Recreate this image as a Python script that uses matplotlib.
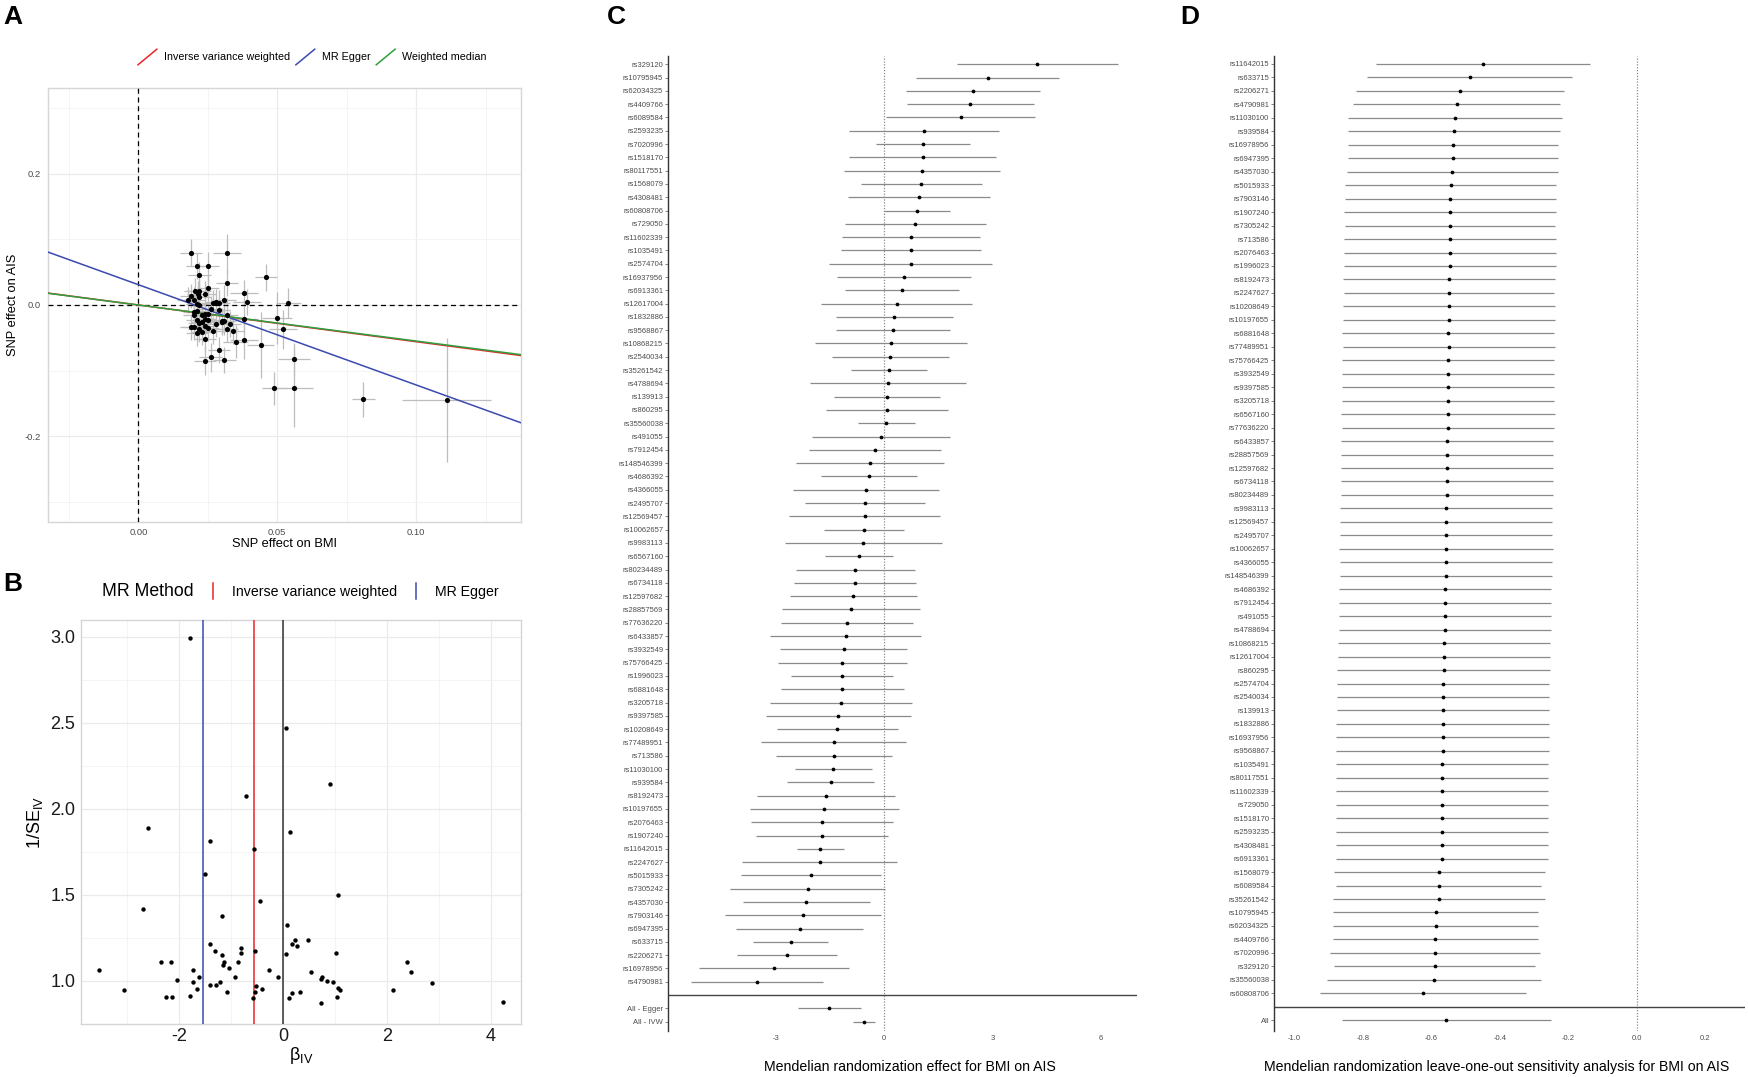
import numpy as np
import matplotlib
matplotlib.use('Agg')
import matplotlib.pyplot as plt
from matplotlib.lines import Line2D
from matplotlib.legend_handler import HandlerBase

plt.rcParams['font.family'] = ['Liberation Sans', 'DejaVu Sans']
plt.rcParams['axes.unicode_minus'] = False
plt.rcParams['mathtext.fontset'] = 'custom'
plt.rcParams['mathtext.rm'] = 'Liberation Sans'
plt.rcParams['mathtext.it'] = 'Liberation Sans:italic'

# ---------------- data ----------------
# panel A: SNP effects on exposure (BMI) and outcome (AIS), +/- se
bx = [0.019, 0.032, 0.021, 0.025, 0.022, 0.046, 0.032, 0.025, 0.038, 0.019,
      0.0205, 0.022, 0.0215, 0.024, 0.022, 0.039, 0.054, 0.020, 0.021, 0.022,
      0.027, 0.028, 0.029, 0.031, 0.029, 0.020, 0.024, 0.025, 0.032, 0.021,
      0.023, 0.025, 0.038, 0.050, 0.028, 0.030, 0.031, 0.019, 0.020, 0.022,
      0.024, 0.025, 0.032, 0.034, 0.052, 0.021, 0.023, 0.024, 0.035, 0.038,
      0.044, 0.029, 0.026, 0.024, 0.031, 0.056, 0.049, 0.056, 0.081, 0.111,
      0.018, 0.021, 0.023, 0.026, 0.030, 0.022, 0.027, 0.024, 0.020, 0.033]
by = [0.080, 0.079, 0.060, 0.059, 0.046, 0.042, 0.034, 0.026, 0.018, 0.014,
      0.021, 0.021, 0.017, 0.017, 0.012, 0.005, 0.003, 0.007, 0.002, 0.000,
      0.003, 0.004, 0.003, 0.008, -0.008, -0.010, -0.013, -0.014, -0.015, -0.023,
      -0.026, -0.023, -0.021, -0.020, -0.029, -0.026, -0.025, -0.034, -0.034, -0.036,
      -0.032, -0.035, -0.037, -0.039, -0.037, -0.043, -0.041, -0.052, -0.056, -0.053,
      -0.061, -0.069, -0.080, -0.085, -0.084, -0.083, -0.127, -0.126, -0.144, -0.145,
      0.008, -0.009, -0.016, -0.006, -0.024, -0.028, -0.039, -0.022, -0.015, -0.029]
bx_se = [0.004, 0.005, 0.004, 0.004, 0.004, 0.004, 0.004, 0.004, 0.005, 0.004,
         0.004, 0.004, 0.004, 0.004, 0.004, 0.005, 0.0045, 0.004, 0.004, 0.004,
         0.004, 0.004, 0.004, 0.004, 0.004, 0.004, 0.004, 0.004, 0.004, 0.004,
         0.004, 0.004, 0.005, 0.0054, 0.004, 0.004, 0.004, 0.004, 0.004, 0.004,
         0.004, 0.004, 0.004, 0.004, 0.005, 0.004, 0.004, 0.004, 0.0045, 0.005,
         0.005, 0.004, 0.004, 0.004, 0.004, 0.0057, 0.0045, 0.007, 0.004, 0.016,
         0.004, 0.004, 0.004, 0.004, 0.004, 0.004, 0.004, 0.004, 0.004, 0.004]
by_se = [0.020, 0.030, 0.020, 0.022, 0.020, 0.020, 0.020, 0.020, 0.020, 0.018,
         0.020, 0.020, 0.020, 0.020, 0.020, 0.020, 0.023, 0.020, 0.020, 0.020,
         0.020, 0.020, 0.020, 0.022, 0.020, 0.020, 0.020, 0.020, 0.025, 0.020,
         0.020, 0.020, 0.022, 0.040, 0.020, 0.020, 0.020, 0.020, 0.020, 0.020,
         0.020, 0.020, 0.020, 0.020, 0.030, 0.020, 0.020, 0.020, 0.025, 0.030,
         0.050, 0.020, 0.022, 0.022, 0.020, 0.025, 0.025, 0.060, 0.027, 0.094,
         0.020, 0.020, 0.020, 0.020, 0.020, 0.020, 0.020, 0.020, 0.020, 0.020]

# MR estimates
ivw_beta, ivw_se = -0.56, 0.158
egger_beta, egger_se, egger_int = -1.53, 0.444, 0.031
wm_beta = -0.55

# panel C: single SNP Wald ratios (also used for panel B)
snp_c = ['rs329120', 'rs10795945', 'rs62034325', 'rs4409766', 'rs6089584', 'rs2593235',
         'rs7020996', 'rs1518170', 'rs80117551', 'rs1568079', 'rs4308481', 'rs60808706',
         'rs729050', 'rs11602339', 'rs1035491', 'rs2574704', 'rs16937956', 'rs6913361',
         'rs12617004', 'rs1832886', 'rs9568867', 'rs10868215', 'rs2540034', 'rs35261542',
         'rs4788694', 'rs139913', 'rs860295', 'rs35560038', 'rs491055', 'rs7912454',
         'rs148546399', 'rs4686392', 'rs4366055', 'rs2495707', 'rs12569457', 'rs10062657',
         'rs9983113', 'rs6567160', 'rs80234489', 'rs6734118', 'rs12597682', 'rs28857569',
         'rs77636220', 'rs6433857', 'rs3932549', 'rs75766425', 'rs1996023', 'rs6881648',
         'rs3205718', 'rs9397585', 'rs10208649', 'rs77489951', 'rs713586', 'rs11030100',
         'rs939584', 'rs8192473', 'rs10197655', 'rs2076463', 'rs1907240', 'rs11642015',
         'rs2247627', 'rs5015933', 'rs7305242', 'rs4357030', 'rs7903146', 'rs6947395',
         'rs633715', 'rs2206271', 'rs16978956', 'rs4790981']
beta_c = [4.24, 2.87, 2.47, 2.39, 2.12, 1.10, 1.07, 1.06, 1.04, 1.03, 0.96, 0.91,
          0.86, 0.75, 0.73, 0.73, 0.54, 0.48, 0.34, 0.28, 0.24, 0.18, 0.17, 0.14,
          0.11, 0.08, 0.07, 0.06, -0.09, -0.26, -0.40, -0.43, -0.51, -0.53, -0.54, -0.55,
          -0.58, -0.70, -0.80, -0.81, -0.86, -0.92, -1.04, -1.07, -1.13, -1.16, -1.17, -1.17,
          -1.21, -1.28, -1.30, -1.40, -1.40, -1.41, -1.49, -1.62, -1.66, -1.73, -1.73, -1.78,
          -1.79, -2.03, -2.13, -2.16, -2.25, -2.35, -2.60, -2.69, -3.06, -3.53]
se_c = [1.14, 1.015, 0.95, 0.903, 1.056, 1.056, 0.666, 1.04, 1.10, 0.859, 1.005, 0.466,
        1.00, 0.975, 0.99, 1.148, 0.95, 0.808, 1.07, 0.833, 0.808, 1.077, 0.823, 0.537,
        1.107, 0.754, 0.864, 0.405, 0.98, 0.94, 1.05, 0.683, 1.03, 0.851, 1.07, 0.566,
        1.11, 0.482, 0.84, 0.86, 0.90, 0.98, 0.93, 1.066, 0.903, 0.913, 0.725, 0.87,
        1.005, 1.025, 0.851, 1.025, 0.824, 0.551, 0.616, 0.98, 1.05, 1.005, 0.94, 0.334,
        1.097, 0.995, 1.10, 0.90, 1.10, 0.902, 0.530, 0.706, 1.056, 0.94]
all_c_labels = ['All - Egger', 'All - IVW']
all_c_beta = [egger_beta, ivw_beta]
all_c_se = [egger_se, ivw_se]

# panel D: leave-one-out estimates
snp_d = ['rs11642015', 'rs633715', 'rs2206271', 'rs4790981', 'rs11030100', 'rs939584',
         'rs16978956', 'rs6947395', 'rs4357030', 'rs5015933', 'rs7903146', 'rs1907240',
         'rs7305242', 'rs713586', 'rs2076463', 'rs1996023', 'rs8192473', 'rs2247627',
         'rs10208649', 'rs10197655', 'rs6881648', 'rs77489951', 'rs75766425', 'rs3932549',
         'rs9397585', 'rs3205718', 'rs6567160', 'rs77636220', 'rs6433857', 'rs28857569',
         'rs12597682', 'rs6734118', 'rs80234489', 'rs9983113', 'rs12569457', 'rs2495707',
         'rs10062657', 'rs4366055', 'rs148546399', 'rs4686392', 'rs7912454', 'rs491055',
         'rs4788694', 'rs10868215', 'rs12617004', 'rs860295', 'rs2574704', 'rs2540034',
         'rs139913', 'rs1832886', 'rs16937956', 'rs9568867', 'rs1035491', 'rs80117551',
         'rs11602339', 'rs729050', 'rs1518170', 'rs2593235', 'rs4308481', 'rs6913361',
         'rs1568079', 'rs6089584', 'rs35261542', 'rs10795945', 'rs62034325', 'rs4409766',
         'rs7020996', 'rs329120', 'rs35560038', 'rs60808706']
beta_d = [-0.449, -0.488, -0.517, -0.526, -0.530, -0.534, -0.536, -0.537, -0.539, -0.543,
          -0.544, -0.545, -0.545, -0.546, -0.546, -0.546, -0.547, -0.548, -0.548, -0.548,
          -0.550, -0.549, -0.550, -0.550, -0.551, -0.551, -0.551, -0.552, -0.553, -0.554,
          -0.554, -0.554, -0.555, -0.556, -0.557, -0.557, -0.557, -0.557, -0.558, -0.559,
          -0.559, -0.561, -0.561, -0.562, -0.563, -0.564, -0.565, -0.566, -0.566, -0.567,
          -0.567, -0.567, -0.568, -0.568, -0.568, -0.569, -0.569, -0.569, -0.569, -0.569,
          -0.576, -0.578, -0.578, -0.587, -0.587, -0.588, -0.589, -0.590, -0.592, -0.624]
se_d = [0.159, 0.153, 0.155, 0.154, 0.159, 0.158, 0.156, 0.156, 0.157, 0.157,
        0.157, 0.158, 0.157, 0.158, 0.158, 0.158, 0.158, 0.157, 0.158, 0.158,
        0.158, 0.158, 0.158, 0.158, 0.158, 0.158, 0.160, 0.158, 0.158, 0.158,
        0.158, 0.158, 0.158, 0.158, 0.158, 0.158, 0.159, 0.158, 0.158, 0.158,
        0.158, 0.158, 0.158, 0.158, 0.158, 0.158, 0.158, 0.158, 0.158, 0.158,
        0.158, 0.158, 0.158, 0.158, 0.158, 0.158, 0.158, 0.158, 0.158, 0.158,
        0.157, 0.153, 0.158, 0.153, 0.153, 0.153, 0.157, 0.150, 0.159, 0.153]
all_d_beta, all_d_se = -0.556, 0.156

RED, BLUE, GREEN = '#E8262A', '#3A4AAE', '#2E9E3E'

# ---------------- figure ----------------
W, H = 1748, 1077
fig = plt.figure(figsize=(W / 100, H / 100), dpi=100)


def box(l, t, r, b):
    return [l / W, 1 - b / H, (r - l) / W, (b - t) / H]


class SlashHandler(HandlerBase):
    def create_artists(self, legend, orig_handle, xdescent, ydescent, width, height, fontsize, trans):
        ln = Line2D([-xdescent, -xdescent + width], [-ydescent, -ydescent + height],
                    color=orig_handle.get_color(), lw=orig_handle.get_linewidth())
        ln.set_transform(trans)
        return [ln]


class VHandler(HandlerBase):
    def create_artists(self, legend, orig_handle, xdescent, ydescent, width, height, fontsize, trans):
        xc = -xdescent + width / 2
        ln = Line2D([xc, xc], [-ydescent, -ydescent + height],
                    color=orig_handle.get_color(), lw=orig_handle.get_linewidth())
        ln.set_transform(trans)
        return [ln]


def light_theme(ax, lab_size, lab_color):
    ax.grid(True, which='major', color='#EBEBEB', lw=0.9)
    ax.grid(True, which='minor', color='#F2F2F2', lw=0.6)
    ax.set_axisbelow(True)
    for s in ax.spines.values():
        s.set_color('#D6D6D6')
        s.set_linewidth(1.0)
    ax.tick_params(which='both', length=0, labelsize=lab_size, labelcolor=lab_color)


# ---- A: scatter ----
axA = fig.add_axes(box(48, 88, 521, 522))
light_theme(axA, 6.8, '#4D4D4D')
axA.errorbar(bx, by, xerr=bx_se, yerr=by_se, fmt='none', ecolor='#BDBDBD', elinewidth=0.9, zorder=2)
axA.scatter(bx, by, s=14, color='black', zorder=4, linewidths=0)
axA.axvline(0, color='black', ls=(0, (4, 3)), lw=0.9, zorder=3)
axA.axhline(0, color='black', ls=(0, (4, 3)), lw=0.9, zorder=3)
axA.axline((0, 0), slope=ivw_beta, color=RED, lw=1.1, zorder=3)
axA.axline((0, egger_int), slope=egger_beta, color=BLUE, lw=1.1, zorder=3)
axA.axline((0, 0), slope=wm_beta, color=GREEN, lw=1.1, zorder=3)
axA.set_xlim(-0.0325, 0.1377)
axA.set_ylim(-0.331, 0.331)
axA.set_xticks([0.0, 0.05, 0.10])
axA.set_xticklabels(['0.00', '0.05', '0.10'])
axA.set_xticks([-0.025, 0.025, 0.075, 0.125], minor=True)
axA.set_yticks([-0.2, 0.0, 0.2])
axA.set_yticklabels(['-0.2', '0.0', '0.2'])
axA.set_yticks([-0.3, -0.1, 0.1, 0.3], minor=True)
axA.tick_params(axis='x', pad=4)
axA.tick_params(axis='y', pad=5)
axA.set_xlabel('SNP effect on BMI', fontsize=9.3, labelpad=1)
axA.set_ylabel('SNP effect on AIS', fontsize=9.3, labelpad=4)
axA.legend([Line2D([], [], color=RED, lw=1.1), Line2D([], [], color=BLUE, lw=1.1),
            Line2D([], [], color=GREEN, lw=1.1)],
           ['Inverse variance weighted', 'MR Egger', 'Weighted median'],
           handler_map={Line2D: SlashHandler()}, ncol=3, fontsize=7.75, frameon=False,
           handlelength=1.75, handleheight=1.85, handletextpad=0.65, columnspacing=0.55,
           borderpad=0, borderaxespad=0, loc='center left',
           bbox_to_anchor=(138 / W, 1 - 57 / H), bbox_transform=fig.transFigure)

# ---- B: funnel ----
axB = fig.add_axes(box(81, 620, 521, 1024))
light_theme(axB, 13, '#1A1A1A')
inv_se = [1 / s for s in se_c]
axB.scatter(beta_c, inv_se, s=10, color='black', zorder=4, linewidths=0)
axB.axvline(egger_beta, color=BLUE, lw=1.1, zorder=3)
axB.axvline(ivw_beta, color=RED, lw=1.1, zorder=3)
axB.axvline(0, color='#333333', lw=1.1, zorder=3)
axB.set_xlim(-3.885, 4.585)
axB.set_ylim(0.775, 3.096)
axB.set_xticks([-2, 0, 2, 4])
axB.set_xticks([-3, -1, 1, 3], minor=True)
axB.set_yticks([1.0, 1.5, 2.0, 2.5, 3.0])
axB.set_yticklabels(['1.0', '1.5', '2.0', '2.5', '3.0'])
axB.set_yticks([0.75, 1.25, 1.75, 2.25, 2.75], minor=True)
axB.tick_params(axis='x', pad=3)
axB.tick_params(axis='y', pad=4)
axB.set_xlabel(r'$\mathregular{\beta_{IV}}$', fontsize=13, labelpad=0)
axB.set_ylabel(r'$\mathregular{1/SE_{IV}}$', fontsize=13, labelpad=4)
fig.text(102 / W, 1 - 591 / H, 'MR Method', fontsize=12.7, va='center', ha='left')
axB.legend([Line2D([], [], color=RED, lw=1.1), Line2D([], [], color=BLUE, lw=1.1)],
           ['Inverse variance weighted', 'MR Egger'],
           handler_map={Line2D: VHandler()}, ncol=2, fontsize=10.2, frameon=False,
           handlelength=1.2, handleheight=1.45, handletextpad=0.74, columnspacing=0.74,
           borderpad=0, borderaxespad=0, loc='center left',
           bbox_to_anchor=(204.5 / W, 1 - 591 / H), bbox_transform=fig.transFigure)


# ---- C and D: forest plots ----
def forest(ax, ypos, beta, se):
    lo = [b - 1.96 * s for b, s in zip(beta, se)]
    hi = [b + 1.96 * s for b, s in zip(beta, se)]
    ax.hlines(ypos, lo, hi, color='#8A8A8A', lw=0.9, zorder=2)
    ax.plot(beta, ypos, 'o', color='black', ms=2.7, mec='none', zorder=3)


def forest_theme(ax, labels, ypos):
    for k in ['top', 'right', 'bottom']:
        ax.spines[k].set_visible(False)
    ax.spines['left'].set_color('#333333')
    ax.spines['left'].set_linewidth(1.0)
    ax.set_yticks(ypos)
    ax.set_yticklabels(labels)
    ax.tick_params(axis='y', length=2, width=0.5, color='#555555', labelsize=5.5,
                   labelcolor='#4D4D4D', pad=1.5)
    ax.tick_params(axis='x', length=0, labelsize=5.5, labelcolor='#4D4D4D', pad=3)
    ax.axvline(0, color='#8A8A8A', ls=(0, (1, 1.3)), lw=0.9, zorder=1)


axC = fig.add_axes(box(668, 56, 1137, 1031))
yc = list(range(len(snp_c)))
forest(axC, yc, beta_c, se_c)
yc_all = [len(snp_c) + 1, len(snp_c) + 2]
forest(axC, yc_all, all_c_beta, all_c_se)
axC.axhline(len(snp_c), color='#444444', lw=1.0)
forest_theme(axC, snp_c + all_c_labels, yc + yc_all)
axC.set_xlim(-6.0, 7.01)
axC.set_ylim(72.7, -0.62)
axC.set_xticks([-3, 0, 3, 6])
axC.set_xlabel('Mendelian randomization effect for BMI on AIS', fontsize=10.2, labelpad=13,
               x=0.515)

axD = fig.add_axes(box(1274, 56, 1745, 1031))
yd = list(range(len(snp_d)))
forest(axD, yd, beta_d, se_d)
yd_all = [len(snp_d) + 1]
forest(axD, yd_all, [all_d_beta], [all_d_se])
axD.axhline(len(snp_d), color='#444444', lw=1.0)
forest_theme(axD, snp_d + ['All'], yd + yd_all)
axD.set_xlim(-1.059, 0.316)
axD.set_ylim(71.8, -0.59)
axD.set_xticks([-1.0, -0.8, -0.6, -0.4, -0.2, 0.0, 0.2])
axD.set_xticklabels(['-1.0', '-0.8', '-0.6', '-0.4', '-0.2', '0.0', '0.2'])
axD.set_xlabel('Mendelian randomization leave-one-out sensitivity analysis for BMI on AIS',
               fontsize=10.2, labelpad=13, x=0.473)

# panel letters
for lab, x, y in [('A', 3, 17), ('B', 3, 584), ('C', 607, 17), ('D', 1180, 17)]:
    fig.text(x / W, 1 - y / H, lab, fontsize=19, fontweight='bold', ha='left', va='center')

fig.savefig('out.png', dpi=100)
